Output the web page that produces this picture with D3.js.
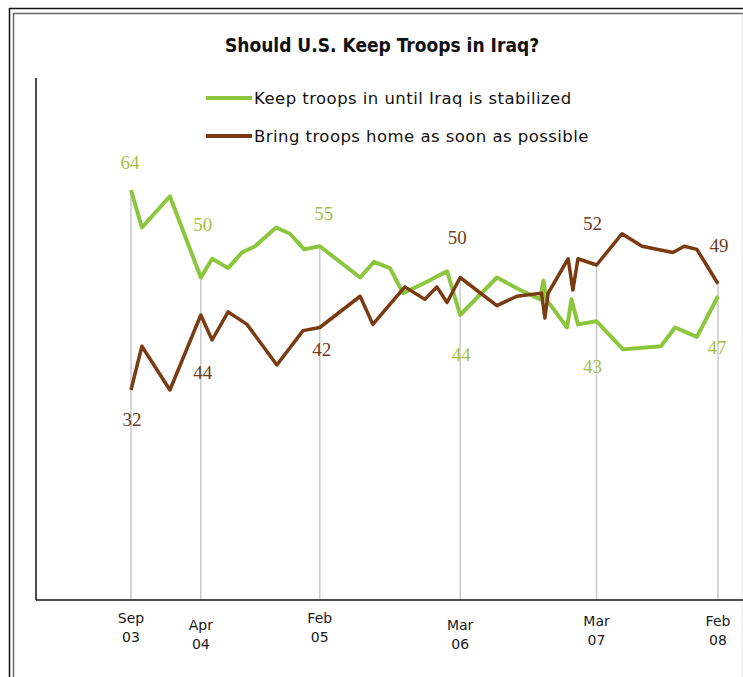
<!DOCTYPE html>
<html>
<head>
<meta charset="utf-8">
<script src="https://cdn.jsdelivr.net/npm/d3@7"></script>
<style>
  html, body { margin: 0; padding: 0; background: #fff; }
  svg { display: block; }
</style>
</head>
<body>
<div id="chart"></div>
<script>
// Survey series: "Keep troops in until Iraq is stabilized"
const keepDates = [
  "2003-09-20","2003-10-20","2004-01-05","2004-03-30","2004-04-30","2004-06-13",
  "2004-07-21","2004-08-26","2004-10-23","2004-11-30","2005-01-08","2005-02-20",
  "2005-06-11","2005-07-19","2005-09-01","2005-10-07","2005-12-01","2006-02-05",
  "2006-03-13","2006-06-22","2006-08-25","2006-10-19","2006-10-28","2006-11-05",
  "2007-01-01","2007-01-13","2007-01-31","2007-03-23","2007-06-04","2007-09-16",
  "2007-10-25","2007-12-24","2008-02-20"
];
const keepValues = [
  64, 58, 63, 50, 53, 51.5,
  54, 55, 58, 57, 54.5, 55,
  50, 52.5, 51.5, 47.5, 49, 51,
  44, 50, 48, 46.5, 49.5, 46.5,
  42, 46.5, 42.5, 43, 38.5, 39,
  42, 40.5, 47
];

// Survey series: "Bring troops home as soon as possible"
const homeDates = [
  "2003-09-20","2003-10-20","2004-01-05","2004-03-30","2004-04-30","2004-06-13",
  "2004-08-04","2004-10-25","2005-01-05","2005-02-20","2005-06-11","2005-07-16",
  "2005-10-12","2005-12-06","2006-01-08","2006-02-05","2006-03-13","2006-06-22",
  "2006-08-16","2006-10-23","2006-11-01","2006-11-10","2007-01-04","2007-01-17",
  "2007-01-31","2007-03-23","2007-06-01","2007-07-26","2007-10-19","2007-11-19",
  "2007-12-24","2008-02-20"
];
const homeValues = [
  32, 39, 32, 44, 40, 44.5,
  42.5, 36, 41.5, 42, 47, 42.5,
  48.5, 46.5, 48.5, 46, 50, 45.5,
  47, 47.5, 43.5, 47.5, 53, 48,
  53, 52, 57, 55, 54, 55,
  54.5, 49
];

// Labelled survey dates along the time axis
const tickDates  = ["2003-09-20","2004-03-30","2005-02-20","2006-03-13","2007-03-23","2008-02-20"];
const tickMonths = ["Sep","Apr","Feb","Mar","Mar","Feb"];
const tickYears  = ["03","04","05","06","07","08"];

const seriesNames = ["Keep troops in until Iraq is stabilized", "Bring troops home as soon as possible"];
const titleText = "Should U.S. Keep Troops in Iraq?";

// ---- layout / style ----
const W = 743, H = 677;
const plotLeft = 36, plotRight = 743, plotTop = 78, plotBottom = 600;
const keepColor = "#8cc63f", keepLabelColor = "#a2bf45";
const homeColor = "#7a3a12", homeLabelColor = "#6f3c1c";
const gridColor = "#c9c9c9";

// vertical offsets of the month/year labels under each tick
const tickLabelShift = [0, 7, 0, 7, 3, 3];
// value-label offsets (dx, dy) from the point, per tick, for each series
const keepLabelOffsets = [[-1,-28],[2,-53],[4,-33],[1,39],[-4,45],[-1,51]];
const homeLabelOffsets = [[1,29],[2,57],[2,22],[-3,-40],[-4,-42],[1,-38]];

const parse = d3.timeParse("%Y-%m-%d");
const keep = keepDates.map((d, i) => ({ date: parse(d), value: keepValues[i] }));
const home = homeDates.map((d, i) => ({ date: parse(d), value: homeValues[i] }));
const ticks = tickDates.map(parse);

const x = d3.scaleTime()
  .domain([parse(tickDates[0]), parse(tickDates[tickDates.length - 1])])
  .range([131, 718]);
const y = d3.scaleLinear().domain([0, 80]).range([590, 90]);

const svg = d3.select("#chart").append("svg")
  .attr("width", W).attr("height", H)
  .attr("viewBox", `0 0 ${W} ${H}`);

svg.append("rect").attr("width", W).attr("height", H).attr("fill", "#fff");

// double frame along the top and left
svg.append("path").attr("d", `M9.5,${H} V8.5 H${W}`)
  .attr("fill", "none").attr("stroke", "#111").attr("stroke-width", 1.5);
svg.append("path").attr("d", `M13.5,${H} V13.5 H${W}`)
  .attr("fill", "none").attr("stroke", "#6a6a6a").attr("stroke-width", 1.5);
svg.append("line").attr("x1", 742).attr("x2", 742).attr("y1", 15).attr("y2", H)
  .attr("stroke", "#e4e4e4").attr("stroke-width", 1);

// title
svg.append("text")
  .attr("x", 382).attr("y", 52)
  .attr("text-anchor", "middle")
  .attr("font-family", "'DejaVu Sans Condensed', 'DejaVu Sans', sans-serif")
  .attr("font-weight", "bold")
  .attr("font-size", 19)
  .attr("fill", "#111")
  .text(titleText);

// legend
const legend = svg.append("g");
[[keepColor, 98], [homeColor, 136]].forEach(([c, ly], i) => {
  legend.append("line").attr("x1", 206).attr("x2", 252).attr("y1", ly).attr("y2", ly)
    .attr("stroke", c).attr("stroke-width", 4);
  legend.append("text")
    .attr("x", 254).attr("y", ly).attr("dy", "0.35em")
    .attr("font-family", "'DejaVu Sans', sans-serif")
    .attr("font-size", 16.5)
    .attr("letter-spacing", 0.45)
    .attr("fill", "#111")
    .text(seriesNames[i]);
});

// vertical guide lines at labelled dates, from the higher point down to the baseline
const valueAt = (series, d) => series.find(p => +p.date === +d).value;
svg.append("g").selectAll("line").data(ticks).join("line")
  .attr("x1", d => x(d)).attr("x2", d => x(d))
  .attr("y1", d => y(Math.max(valueAt(keep, d), valueAt(home, d))))
  .attr("y2", plotBottom)
  .attr("stroke", gridColor).attr("stroke-width", 1.5);

// axes
svg.append("line").attr("x1", plotLeft).attr("x2", plotLeft)
  .attr("y1", plotTop).attr("y2", plotBottom)
  .attr("stroke", "#111").attr("stroke-width", 1.5);
svg.append("line").attr("x1", plotLeft).attr("x2", plotRight)
  .attr("y1", plotBottom).attr("y2", plotBottom)
  .attr("stroke", "#111").attr("stroke-width", 1.5);

// time axis labels
const tickG = svg.append("g")
  .attr("font-family", "'DejaVu Sans', sans-serif")
  .attr("font-size", 14)
  .attr("fill", "#1a1a1a")
  .attr("text-anchor", "middle");
tickG.selectAll("text.m").data(ticks).join("text").attr("class", "m")
  .attr("x", d => x(d)).attr("y", (d, i) => 618 + tickLabelShift[i]).attr("dy", "0.35em")
  .text((d, i) => tickMonths[i]);
tickG.selectAll("text.yr").data(ticks).join("text").attr("class", "yr")
  .attr("x", d => x(d)).attr("y", (d, i) => 637 + tickLabelShift[i]).attr("dy", "0.35em")
  .text((d, i) => tickYears[i]);

// series lines
const line = d3.line().x(d => x(d.date)).y(d => y(d.value));
svg.append("path").datum(keep).attr("d", line)
  .attr("fill", "none").attr("stroke", keepColor).attr("stroke-width", 4)
  .attr("stroke-linejoin", "round");
svg.append("path").datum(home).attr("d", line)
  .attr("fill", "none").attr("stroke", homeColor).attr("stroke-width", 3.5)
  .attr("stroke-linejoin", "round");

// value labels at the labelled dates
function valueLabels(series, color, offsets) {
  svg.append("g")
    .attr("font-family", "'Liberation Serif', 'Times New Roman', serif")
    .attr("font-size", 19)
    .attr("fill", color)
    .attr("text-anchor", "middle")
    .selectAll("text").data(ticks).join("text")
    .attr("x", (d, i) => x(d) + offsets[i][0])
    .attr("y", (d, i) => y(valueAt(series, d)) + offsets[i][1])
    .attr("dy", "0.35em")
    .text(d => d3.format("d")(valueAt(series, d)));
}
valueLabels(keep, keepLabelColor, keepLabelOffsets);
valueLabels(home, homeLabelColor, homeLabelOffsets);
</script>
</body>
</html>
